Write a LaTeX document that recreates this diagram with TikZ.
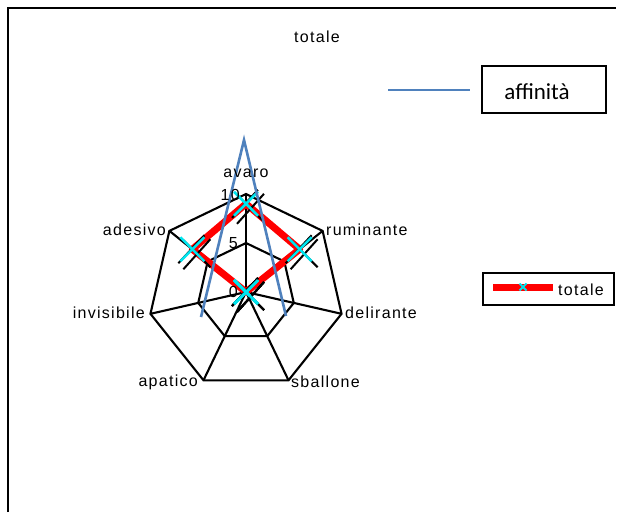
\documentclass[tikz,border=0pt]{standalone}
\usepackage{fontspec}
\setmainfont{Liberation Sans}
\newfontfamily\chartfont[LetterSpace=8]{Liberation Sans}
\newfontfamily\legfont{Carlito}
\definecolor{affblue}{HTML}{4F81BD}
\definecolor{mcyan}{HTML}{00E5EE}
\begin{document}
\begin{tikzpicture}[x=1pt,y=-1pt,
  gridline/.style={black, line width=2.1pt, line join=miter},
  series/.style={red, line width=7pt, line join=round},
  affin/.style={affblue, line width=2.6pt},
  lbl/.style={font=\chartfont\fontsize{16}{18}\selectfont, inner sep=0pt},
  frame/.style={black, line width=2.4pt}]
\fill[white] (0,0) rectangle (617,512);
\useasboundingbox (0,0) rectangle (617,512);
% outer frame
\coordinate (f1) at (8,512);
\coordinate (f2) at (8,8);
\coordinate (f3) at (616,8);
\draw[frame, line join=miter] (f1) -- (f2) -- (f3);
\node[lbl] (title) at (317,37) {totale};
% radar geometry
\coordinate (C) at (246,292);
\foreach \k in {0,...,6}{
  \coordinate (o\k) at ({246+98*sin(\k*360/7)},{292-98*cos(\k*360/7)});
  \coordinate (m\k) at ({246+49*sin(\k*360/7)},{292-49*cos(\k*360/7)});
}
\draw[gridline] (o0)--(o1)--(o2)--(o3)--(o4)--(o5)--(o6)--cycle;
\draw[gridline] (m0)--(m1)--(m2)--(m3)--(m4)--(m5)--(m6)--cycle;
\foreach \k in {0,...,6}{ \draw[gridline] (C) -- (o\k); }
% data
\foreach \k/\v in {0/9,1/7,2/0,3/0,4/0,5/0,6/7}{
  \coordinate (d\k) at ({246+\v*9.8*sin(\k*360/7)},{292-\v*9.8*cos(\k*360/7)});
}
\draw[series] (d0)--(d1)--(d2)--(d3)--(d4)--(d5)--(d6)--cycle;
% markers
\foreach \k in {0,...,6}{
  \draw[black, line width=2pt] ([shift={(-9,20)}]d\k) -- ([shift={(18,-10)}]d\k);
  \draw[black, line width=2pt] ([shift={(-14,14)}]d\k) -- ([shift={(12,-14)}]d\k);
  \draw[black, line width=2pt] ([shift={(-9,-9)}]d\k) -- ([shift={(18,18)}]d\k);
  \draw[mcyan, line width=2.6pt] ([shift={(-12,-12)}]d\k) -- ([shift={(12,12)}]d\k);
  \draw[mcyan, line width=2.6pt] ([shift={(-12,12)}]d\k) -- ([shift={(12,-12)}]d\k);
}
% affinity series
\coordinate (b1) at (201,317);
\coordinate (b2) at (244,140);
\coordinate (b3) at (286,316);
\draw[affin, line join=miter] (b1) -- (b2) -- (b3);
% axis labels
\node[lbl] (lavaro) at (246,173) {avaro};
\node[lbl, anchor=west] (lrum) at (326,230) {ruminante};
\node[lbl, anchor=west] (ldel) at (345,313) {delirante};
\node[lbl, anchor=west] (lsba) at (291,382) {sballone};
\node[lbl, anchor=east] (lapa) at (198,382) {apatico};
\node[lbl, anchor=east] (linv) at (145,313) {invisibile};
\node[lbl, anchor=east] (lade) at (166,230) {adesivo};
% tick labels
\node[lbl, anchor=east] (t10) at (240,195) {10};
\node[lbl, anchor=east] (t5) at (238,243) {5};
\node[lbl, anchor=east] (t0) at (238,292) {0};
% legend affinita
\node[draw, line width=1.2pt, minimum width=124pt, minimum height=47pt, inner sep=0pt] (legA) at (544,89.5) {};
\node[font=\legfont\fontsize{23}{26}\selectfont, inner sep=0pt] (legAt) at (537,92) {affinità};
\coordinate (la1) at (388,90);
\coordinate (la2) at (470,90);
\draw[affblue, line width=1.8pt] (la1) -- (la2);
% legend totale
\node[draw, line width=2pt, minimum width=131pt, minimum height=32pt, inner sep=0pt] (legT) at (548.5,289) {};
\coordinate (lt1) at (493,287);
\coordinate (lt2) at (553,287);
\coordinate (ltm) at (523,287);
\draw[red, line width=7pt] (lt1) -- (lt2);
\draw[mcyan, line width=2pt] ([shift={(-3.5,-3.5)}]ltm) -- ([shift={(3.5,3.5)}]ltm);
\draw[mcyan, line width=2pt] ([shift={(-3.5,3.5)}]ltm) -- ([shift={(3.5,-3.5)}]ltm);
\node[lbl, anchor=west] (legTt) at (558,290) {totale};
\end{tikzpicture}
\end{document}
